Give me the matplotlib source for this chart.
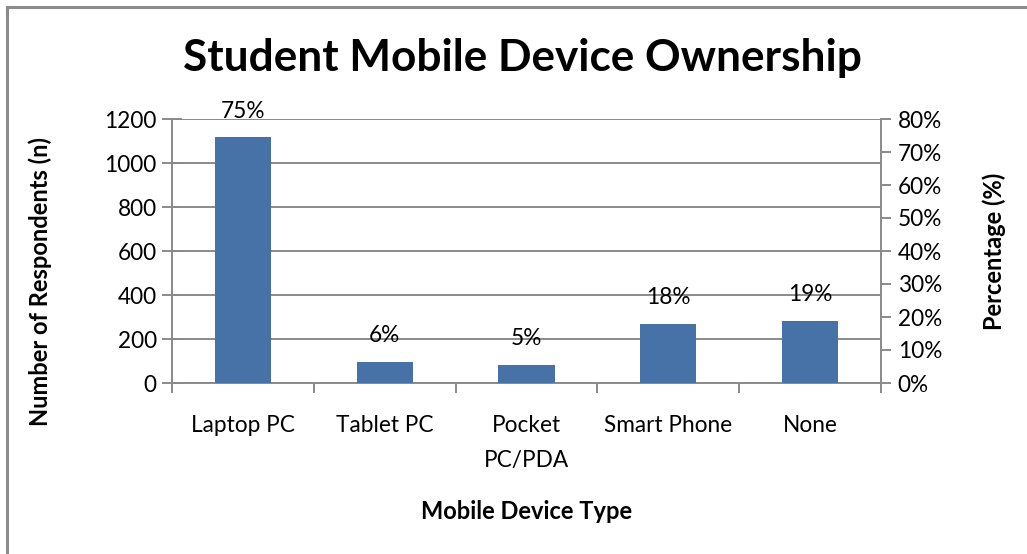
import matplotlib
matplotlib.use("Agg")
import matplotlib.pyplot as plt
from matplotlib.ticker import FuncFormatter
from matplotlib.lines import Line2D

categories = ["Laptop PC", "Tablet PC", "Pocket\nPC/PDA", "Smart Phone", "None"]
respondents = [1116, 94, 82, 267, 282]
percent_labels = ["75%", "6%", "5%", "18%", "19%"]
y_ticks = [0, 200, 400, 600, 800, 1000, 1200]
pct_ticks = [0.0, 0.1, 0.2, 0.3, 0.4, 0.5, 0.6, 0.7, 0.8]

plt.rcParams['font.family'] = ['Lato', 'DejaVu Sans']

W, H = 1027, 554
fig = plt.figure(figsize=(W / 100, H / 100), dpi=100)
fig.patch.set_facecolor("white")

# outer chart border (left and top visible)
bc = "#8c8c8c"
fig.add_artist(Line2D([6.5 / W, 6.5 / W], [0, 1 - 6.5 / H], transform=fig.transFigure,
                      color=bc, linewidth=2.2, solid_capstyle="projecting"))
fig.add_artist(Line2D([6.5 / W, 1], [1 - 6.5 / H, 1 - 6.5 / H], transform=fig.transFigure,
                      color=bc, linewidth=2.2, solid_capstyle="projecting"))

ax = fig.add_axes([172 / W, 1 - 383 / H, (881 - 172) / W, (383 - 119) / H])
grey = "#8a8a8a"
x = list(range(len(categories)))
ax.bar(x, respondents, width=0.395, color="#4672A8", zorder=3)
ax.set_xlim(-0.5, len(categories) - 0.5)
ax.set_ylim(0, 1200)
ax.set_yticks(y_ticks)
ax.yaxis.grid(True, color=grey, linewidth=1.4, zorder=0)
ax.set_axisbelow(True)
for s in ["top", "right"]:
    ax.spines[s].set_visible(False)
for s in ["left", "bottom"]:
    ax.spines[s].set_color(grey)
    ax.spines[s].set_linewidth(1.4)

fs = 16.3
ax.set_xticks(x)
ax.set_xticklabels(categories, fontsize=fs, linespacing=1.8, va="top")
ax.tick_params(axis="x", which="major", length=0, pad=23)
ax.set_xticks([i - 0.5 for i in range(len(categories) + 1)], minor=True)
ax.tick_params(axis="x", which="minor", length=7, width=1.4, color=grey, direction="out")
ax.tick_params(axis="y", labelsize=fs, length=14, width=1.4, color=grey, direction="inout", pad=4)
for lbl in ax.get_xticklabels():
    lbl.set_multialignment("center")

ax.set_ylabel("Number of Respondents (n)", fontsize=17, fontweight="bold", labelpad=38)
ax.yaxis.label.set_y(0.386)
ax.set_xlabel("Mobile Device Type", fontsize=17, fontweight="bold", labelpad=21)

for xi, v, lab in zip(x, respondents, percent_labels):
    ax.annotate(lab, (xi, v), xytext=(0, 19), textcoords="offset points",
                ha="center", va="center", fontsize=fs, zorder=4, annotation_clip=False)

ax2 = ax.twinx()
ax2.set_ylim(0, 0.8)
ax2.set_yticks(pct_ticks)
ax2.yaxis.set_major_formatter(FuncFormatter(lambda v, p: f"{v*100:.0f}%"))
ax2.tick_params(axis="y", labelsize=fs, length=7, width=1.4, color=grey, direction="out", pad=5)
for s in ["top", "left", "bottom"]:
    ax2.spines[s].set_visible(False)
ax2.spines["right"].set_color(grey)
ax2.spines["right"].set_linewidth(1.4)
ax2.set_ylabel("Percentage (%)", fontsize=17, fontweight="bold", labelpad=29)

fig.text(522 / W, 1 - 58 / H, "Student Mobile Device Ownership", ha="center", va="center",
         fontsize=31.8, fontweight="bold")

fig.savefig("out.png", dpi=100, facecolor="white")
